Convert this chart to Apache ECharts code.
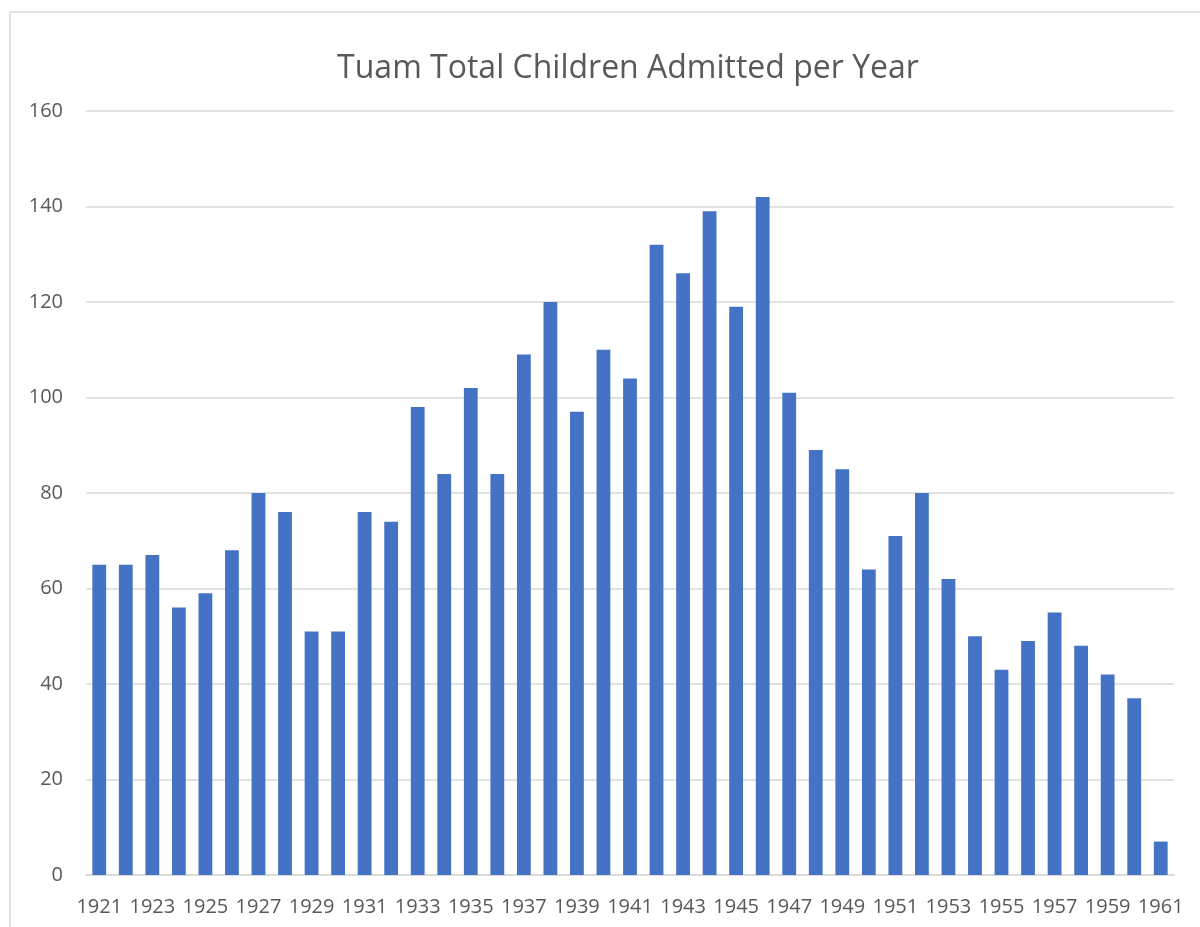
<!DOCTYPE html>
<html>
<head>
<meta charset="utf-8">
<script src="https://cdn.jsdelivr.net/npm/echarts@6/dist/echarts.min.js"></script>
<style>
  html, body { margin: 0; padding: 0; background: #fff; }
  #main { width: 1200px; height: 927px; }
</style>
</head>
<body>
<div id="main"></div>
<script>
// years on the x axis
var years = [];
for (var y = 1921; y <= 1961; y++) years.push(String(y));

// children admitted
var admitted = [65, 65, 67, 56, 59, 68, 80, 76, 51, 51,
                76, 74, 98, 84, 102, 84, 109, 120, 97, 110,
                104, 132, 126, 139, 119, 142, 101, 89, 85, 64,
                71, 80, 62, 50, 43, 49, 55, 48, 42, 37, 7];

var yTicks = [0, 20, 40, 60, 80, 100, 120, 140, 160];

var chart = echarts.init(document.getElementById('main'));

var option = {
  animation: false,
  backgroundColor: '#fff',
  textStyle: { fontFamily: 'Open Sans' },
  title: {
    text: 'Tuam Total Children Admitted per Year',
    left: 623,
    top: 48,
    textAlign: 'center',
    textStyle: { fontSize: 32, fontWeight: 'normal', color: '#595959', fontFamily: 'Open Sans' }
  },
  graphic: [{
    type: 'rect',
    shape: { x: 10, y: 12, width: 1300, height: 1000 },
    style: { fill: 'none', stroke: '#d9d9d9', lineWidth: 1.5 },
    silent: true
  }],
  grid: { left: 86, right: 26, top: 111, bottom: 52, containLabel: false },
  xAxis: {
    type: 'category',
    data: years,
    axisTick: { show: false },
    axisLine: { lineStyle: { color: '#d9d9d9', width: 1.5 } },
    axisLabel: { interval: 1, color: '#595959', fontSize: 20, margin: 22 }
  },
  yAxis: {
    type: 'value',
    min: yTicks[0],
    max: yTicks[yTicks.length - 1],
    interval: 20,
    axisLine: { show: false },
    axisTick: { show: false },
    splitLine: { lineStyle: { color: '#d9d9d9', width: 1.5 } },
    axisLabel: { color: '#595959', fontSize: 20, margin: 23 }
  },
  series: [{
    type: 'bar',
    data: admitted,
    barCategoryGap: '48%',
    itemStyle: { color: '#4472C4' }
  }]
};

chart.setOption(option);
</script>
</body>
</html>
